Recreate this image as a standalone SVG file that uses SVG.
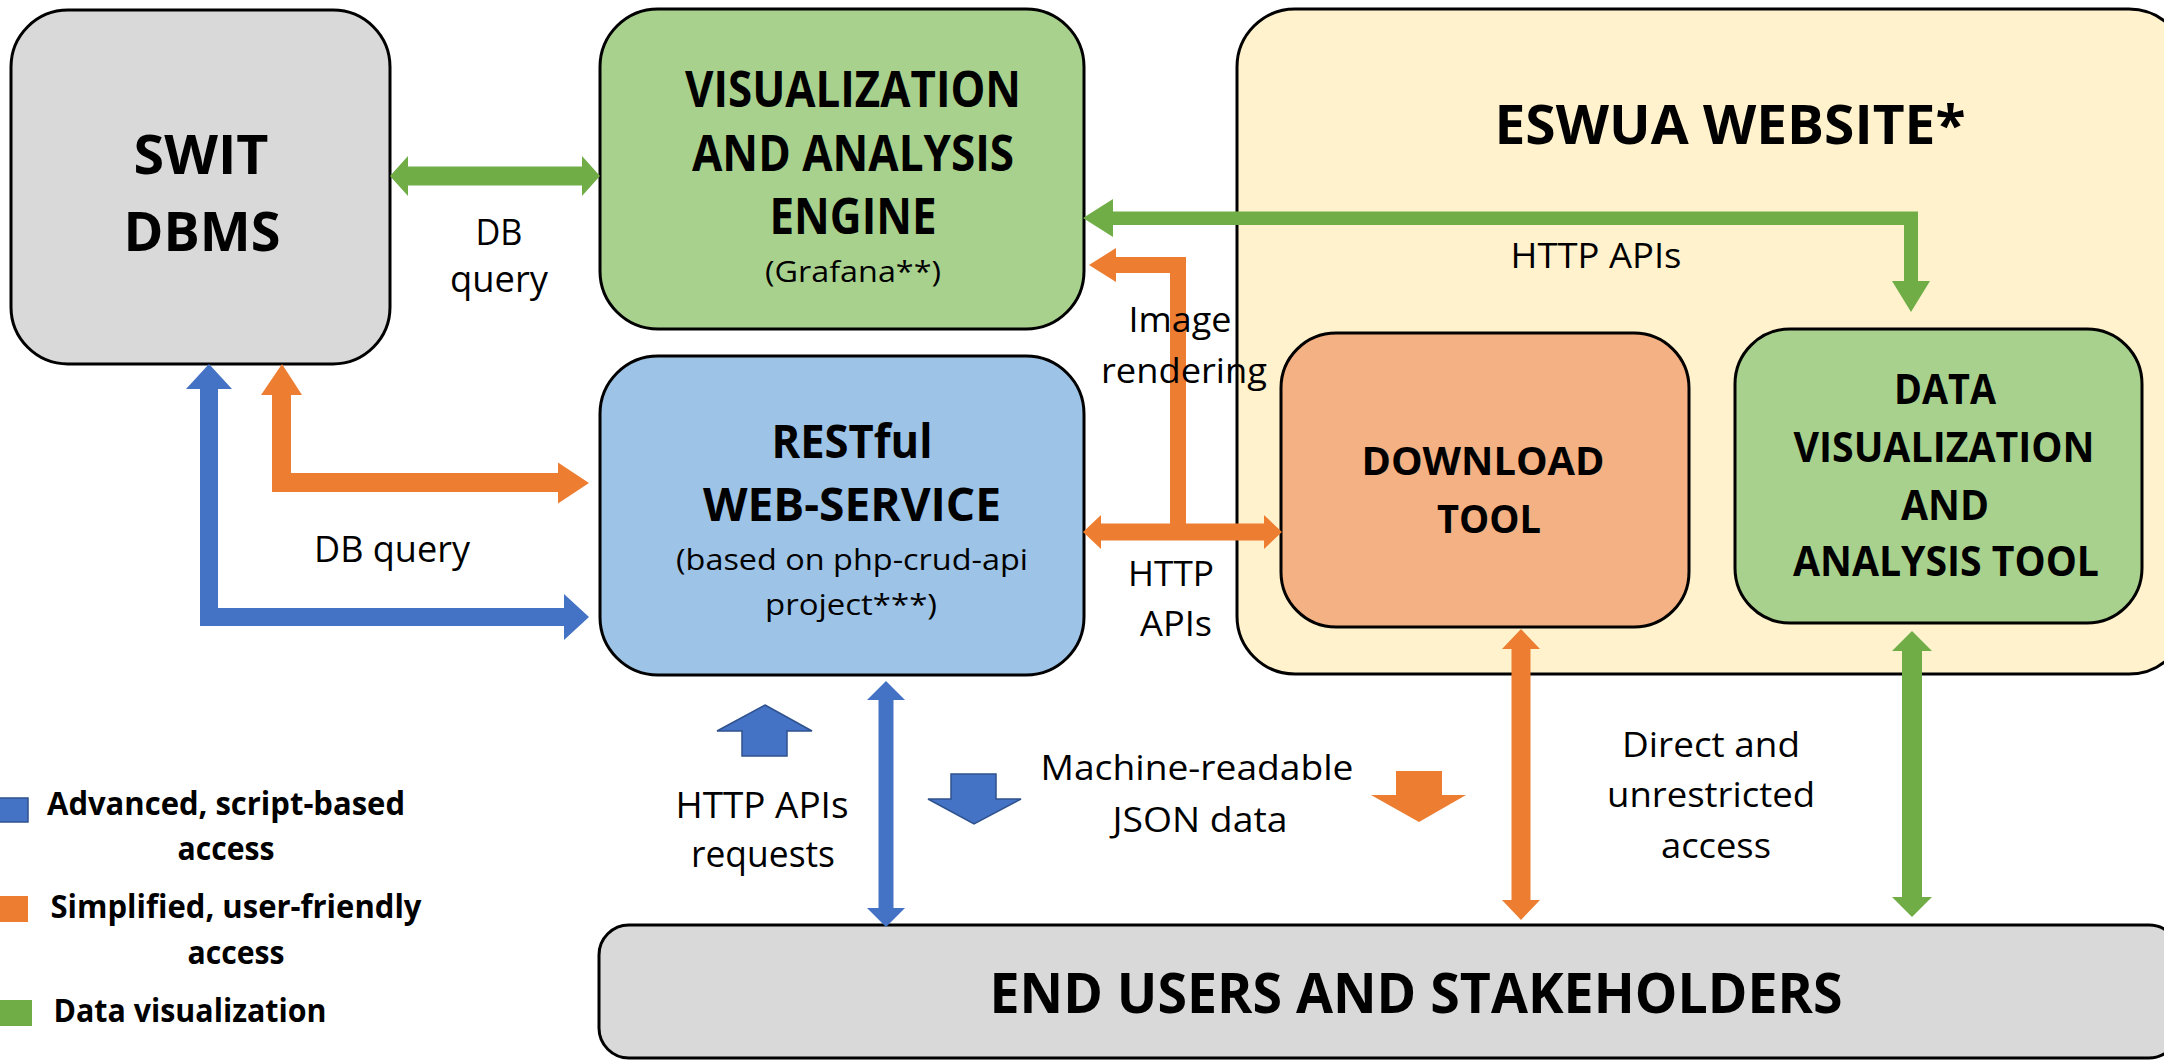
<svg xmlns="http://www.w3.org/2000/svg" width="2164" height="1061" viewBox="0 0 2164 1061">
<style>
.box{stroke:#000;stroke-width:3}
.t{font-family:"Open Sans","Noto Sans","DejaVu Sans",sans-serif;fill:#000;text-anchor:middle}
.b{font-weight:700}
.g{fill:#70AD47}
.o{fill:#ED7D31}
.bl{fill:#4472C4}
</style>
<rect width="2164" height="1061" fill="#fff"/>

<g id="eswua">
<rect class="box" x="1237" y="9" width="950" height="665" rx="58" fill="#FFF2CC"/>
<text class="t b" x="1730" y="144" font-size="54" textLength="471" lengthAdjust="spacingAndGlyphs">ESWUA WEBSITE*</text>
</g>

<g id="swit">
<rect class="box" x="11" y="10" width="379" height="354" rx="57" fill="#D9D9D9"/>
<text class="t b" x="201" y="174" font-size="53" textLength="135" lengthAdjust="spacingAndGlyphs">SWIT</text>
<text class="t b" x="202" y="251" font-size="53" textLength="157" lengthAdjust="spacingAndGlyphs">DBMS</text>
</g>

<g id="viz-engine">
<rect class="box" x="600" y="9" width="484" height="320" rx="58" fill="#A9D18E"/>
<text class="t b" x="853" y="107" font-size="50" textLength="336" lengthAdjust="spacingAndGlyphs">VISUALIZATION</text>
<text class="t b" x="853" y="171" font-size="50" textLength="322" lengthAdjust="spacingAndGlyphs">AND ANALYSIS</text>
<text class="t b" x="853" y="234" font-size="50" textLength="167" lengthAdjust="spacingAndGlyphs">ENGINE</text>
<text class="t" x="853" y="282" font-size="30" textLength="176" lengthAdjust="spacingAndGlyphs">(Grafana**)</text>
</g>

<g id="restful">
<rect class="box" x="600" y="356" width="484" height="319" rx="58" fill="#9DC3E6"/>
<text class="t b" x="852" y="458" font-size="47" textLength="161" lengthAdjust="spacingAndGlyphs">RESTful</text>
<text class="t b" x="852" y="521" font-size="47" textLength="298" lengthAdjust="spacingAndGlyphs">WEB-SERVICE</text>
<text class="t" x="852" y="570" font-size="30" textLength="352" lengthAdjust="spacingAndGlyphs">(based on php-crud-api</text>
<text class="t" x="851" y="615" font-size="30" textLength="172" lengthAdjust="spacingAndGlyphs">project***)</text>
</g>

<g id="download">
<rect class="box" x="1281" y="333" width="408" height="294" rx="55" fill="#F4B183"/>
<text class="t b" x="1483" y="475" font-size="40" textLength="243" lengthAdjust="spacingAndGlyphs">DOWNLOAD</text>
<text class="t b" x="1489" y="533" font-size="40" textLength="104" lengthAdjust="spacingAndGlyphs">TOOL</text>
</g>

<g id="data-viz-tool">
<rect class="box" x="1735" y="329" width="407" height="294" rx="55" fill="#A9D18E"/>
<text class="t b" x="1945" y="404" font-size="41" textLength="102" lengthAdjust="spacingAndGlyphs">DATA</text>
<text class="t b" x="1944" y="462" font-size="41" textLength="301" lengthAdjust="spacingAndGlyphs">VISUALIZATION</text>
<text class="t b" x="1945" y="520" font-size="41" textLength="88" lengthAdjust="spacingAndGlyphs">AND</text>
<text class="t b" x="1946" y="576" font-size="41" textLength="306" lengthAdjust="spacingAndGlyphs">ANALYSIS TOOL</text>
</g>

<g id="end-users">
<rect class="box" x="599" y="925" width="1580" height="133" rx="30" fill="#D9D9D9"/>
<text class="t b" x="1416" y="1013" font-size="56" textLength="853" lengthAdjust="spacingAndGlyphs">END USERS AND STAKEHOLDERS</text>
</g>

<g id="connectors">
<polygon class="g" points="390,176 408,156 408,166.5 582,166.5 582,156 600,176 582,196 582,185.5 408,185.5 408,196"/>
<polygon class="o" points="282,364 302,395 291,395 291,473 558,473 558,462.5 589,483 558,503.5 558,492 272,492 272,395 261,395"/>
<polygon class="bl" points="209,364 232,389 218,389 218,608 564,608 564,594 589,617 564,640 564,626 200,626 200,389 186,389"/>
<polygon class="g" points="1083,218 1113,199 1113,211.5 1918,211.5 1918,281 1930,281 1911,312 1892,281 1904,281 1904,225 1113,225 1113,237"/>
<polygon class="o" points="1083,532 1101,515 1101,523.5 1170,523.5 1170,273 1116,273 1116,282 1089,265 1116,248 1116,257 1186,257 1186,523.5 1264,523.5 1264,515 1282,532 1264,549 1264,540.5 1101,540.5 1101,549"/>
<polygon class="o" points="1521,629 1540,649 1530.5,649 1530.5,900 1540,900 1521,920 1502,900 1511.5,900 1511.5,649 1502,649"/>
<polygon class="g" points="1912,631 1932,651 1922,651 1922,897 1932,897 1912,917 1892,897 1902,897 1902,651 1892,651"/>
<polygon class="bl" points="886,681 905,700 893.5,700 893.5,908 905,908 886,927 867,908 878.5,908 878.5,700 867,700"/>
<polygon class="bl" stroke="#2F528F" stroke-width="1.5" points="765,705 812,731 787,731 787,756 742,756 742,731 717,731"/>
<polygon class="bl" stroke="#2F528F" stroke-width="1.5" points="951,774 996,774 996,799 1021,799 974,824 928,799 951,799"/>
<polygon class="o" points="1396,771 1442,771 1442,795 1466,795 1419,822 1371,795 1396,795"/>
</g>

<g id="labels">
<text class="t" x="499" y="245" font-size="36" textLength="47" lengthAdjust="spacingAndGlyphs">DB</text>
<text class="t" x="499" y="292" font-size="36" textLength="98" lengthAdjust="spacingAndGlyphs">query</text>
<text class="t" x="392" y="562" font-size="36" textLength="156" lengthAdjust="spacingAndGlyphs">DB query</text>
<text class="t" x="1180" y="332" font-size="35" textLength="103" lengthAdjust="spacingAndGlyphs">Image</text>
<text class="t" x="1184" y="383" font-size="35" textLength="166" lengthAdjust="spacingAndGlyphs">rendering</text>
<text class="t" x="1171" y="586" font-size="35" textLength="86" lengthAdjust="spacingAndGlyphs">HTTP</text>
<text class="t" x="1176" y="636" font-size="35" textLength="72" lengthAdjust="spacingAndGlyphs">APIs</text>
<text class="t" x="1596" y="268" font-size="34" textLength="171" lengthAdjust="spacingAndGlyphs">HTTP APIs</text>
<text class="t" x="762" y="818" font-size="36" textLength="173" lengthAdjust="spacingAndGlyphs">HTTP APIs</text>
<text class="t" x="763" y="867" font-size="36" textLength="144" lengthAdjust="spacingAndGlyphs">requests</text>
<text class="t" x="1197" y="780" font-size="35" textLength="313" lengthAdjust="spacingAndGlyphs">Machine-readable</text>
<text class="t" x="1200" y="832" font-size="35" textLength="175" lengthAdjust="spacingAndGlyphs">JSON data</text>
<text class="t" x="1711" y="757" font-size="35" textLength="178" lengthAdjust="spacingAndGlyphs">Direct and</text>
<text class="t" x="1711" y="807" font-size="35" textLength="208" lengthAdjust="spacingAndGlyphs">unrestricted</text>
<text class="t" x="1716" y="858" font-size="35" textLength="110" lengthAdjust="spacingAndGlyphs">access</text>
</g>

<g id="legend">
<rect x="-2" y="798" width="30" height="24" fill="#4472C4" stroke="#2F528F" stroke-width="1.5"/>
<rect x="-2" y="896" width="30" height="26" fill="#ED7D31"/>
<rect x="-2" y="1000" width="34" height="26" fill="#70AD47"/>
<text class="t b" x="226" y="815" font-size="32" textLength="358" lengthAdjust="spacingAndGlyphs">Advanced, script-based</text>
<text class="t b" x="226" y="860" font-size="32" textLength="97" lengthAdjust="spacingAndGlyphs">access</text>
<text class="t b" x="236" y="918" font-size="32" textLength="371" lengthAdjust="spacingAndGlyphs">Simplified, user-friendly</text>
<text class="t b" x="236" y="964" font-size="32" textLength="97" lengthAdjust="spacingAndGlyphs">access</text>
<text class="t b" x="190" y="1022" font-size="32" textLength="273" lengthAdjust="spacingAndGlyphs">Data visualization</text>
</g>
</svg>
